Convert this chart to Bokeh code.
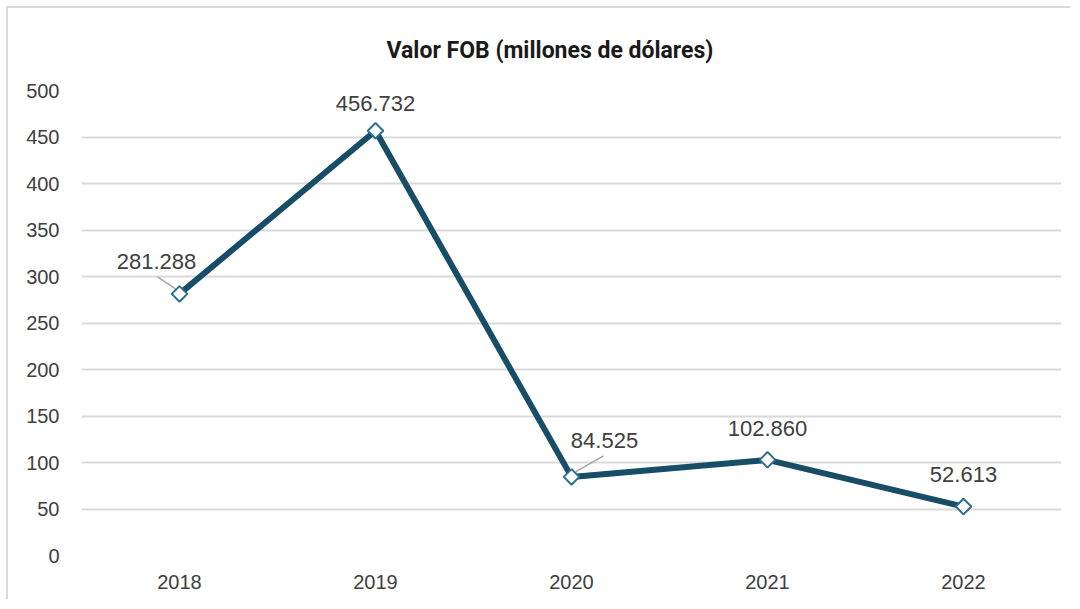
import math
from bokeh.plotting import figure
from bokeh.models import Range1d, FixedTicker, ColumnDataSource, Title
from bokeh.core.properties import value
from bokeh.embed import file_html
from bokeh.resources import INLINE

years = ["2018", "2019", "2020", "2021", "2022"]
values = [281.288, 456.732, 84.525, 102.860, 52.613]
labels = ["281.288", "456.732", "84.525", "102.860", "52.613"]
y_ticks = [0, 50, 100, 150, 200, 250, 300, 350, 400, 450, 500]

# label placement (pixel offsets from each point)
lab_dx = [-23, 0, 33, 0, 0]
lab_dy = [32, 27, 36, 31, 32]

xs = [i + 0.5 for i in range(len(years))]

p = figure(width=1064, height=593, output_backend="svg", toolbar_location=None,
           x_range=Range1d(0, len(years)), y_range=Range1d(0, 500),
           min_border_left=73, min_border_right=11, min_border_top=81,
           min_border_bottom=46)
p.outline_line_color = None
p.background_fill_color = "white"
p.border_fill_color = "white"

p.add_layout(Title(text="Valor FOB (millones de dólares)", align="left", offset=305,
                   text_font="Roboto", text_font_style="bold", text_font_size="23px",
                   text_color="#1a1a1a", standoff=53), "above")

p.xaxis.ticker = FixedTicker(ticks=xs)
p.xaxis.major_label_overrides = {x: y for x, y in zip(xs, years)}
p.yaxis.ticker = FixedTicker(ticks=y_ticks)
for ax in (p.xaxis, p.yaxis):
    ax.axis_line_color = None
    ax.major_tick_line_color = None
    ax.minor_tick_line_color = None
    ax.major_label_text_font = "Liberation Sans"
    ax.major_label_text_font_size = "20px"
    ax.major_label_text_color = "#404040"
p.yaxis.major_label_standoff = 16
p.xaxis.major_label_standoff = 13

p.xgrid.grid_line_color = None
p.ygrid.grid_line_color = "#d9d9d9"
p.ygrid.grid_line_width = 2

src = ColumnDataSource(dict(x=xs, y=values, lab=labels, dx=lab_dx,
                            ndy=[-d for d in lab_dy]))

# leader lines for labels offset to the side
px_x = 196.0
px_y = 466.0 / 500.0
lx0, ly0, lx1, ly1 = [], [], [], []
for i, (dx, dy) in enumerate(zip(lab_dx, lab_dy)):
    if dx != 0:
        sgn = 1 if dx > 0 else -1
        lx0.append(xs[i] + sgn * 4 / px_x)
        ly0.append(values[i] + 5 / px_y)
        lx1.append(xs[i] + sgn * (abs(dx) - 1) / px_x)
        ly1.append(values[i] + (dy - 15) / px_y)
p.segment(lx0, ly0, lx1, ly1, line_color="#a6a6a6", line_width=1.5)

p.line("x", "y", source=src, line_color="#174d66", line_width=6)
p.scatter("x", "y", source=src, marker="square", size=11, angle=math.pi / 4,
          fill_color="white", line_color="#2a6f8f", line_width=2)

p.text("x", "y", text="lab", source=src, x_offset="dx", y_offset="ndy",
       text_align="center", text_baseline="middle",
       text_font=value("Liberation Sans"),
       text_font_size="22px", text_color="#404040")

p.styles = {"border-top": "2px solid #d9d9d9", "border-left": "2px solid #d9d9d9",
            "margin-top": "6px", "margin-left": "6px"}

open("out.html", "w").write(file_html(p, INLINE))
